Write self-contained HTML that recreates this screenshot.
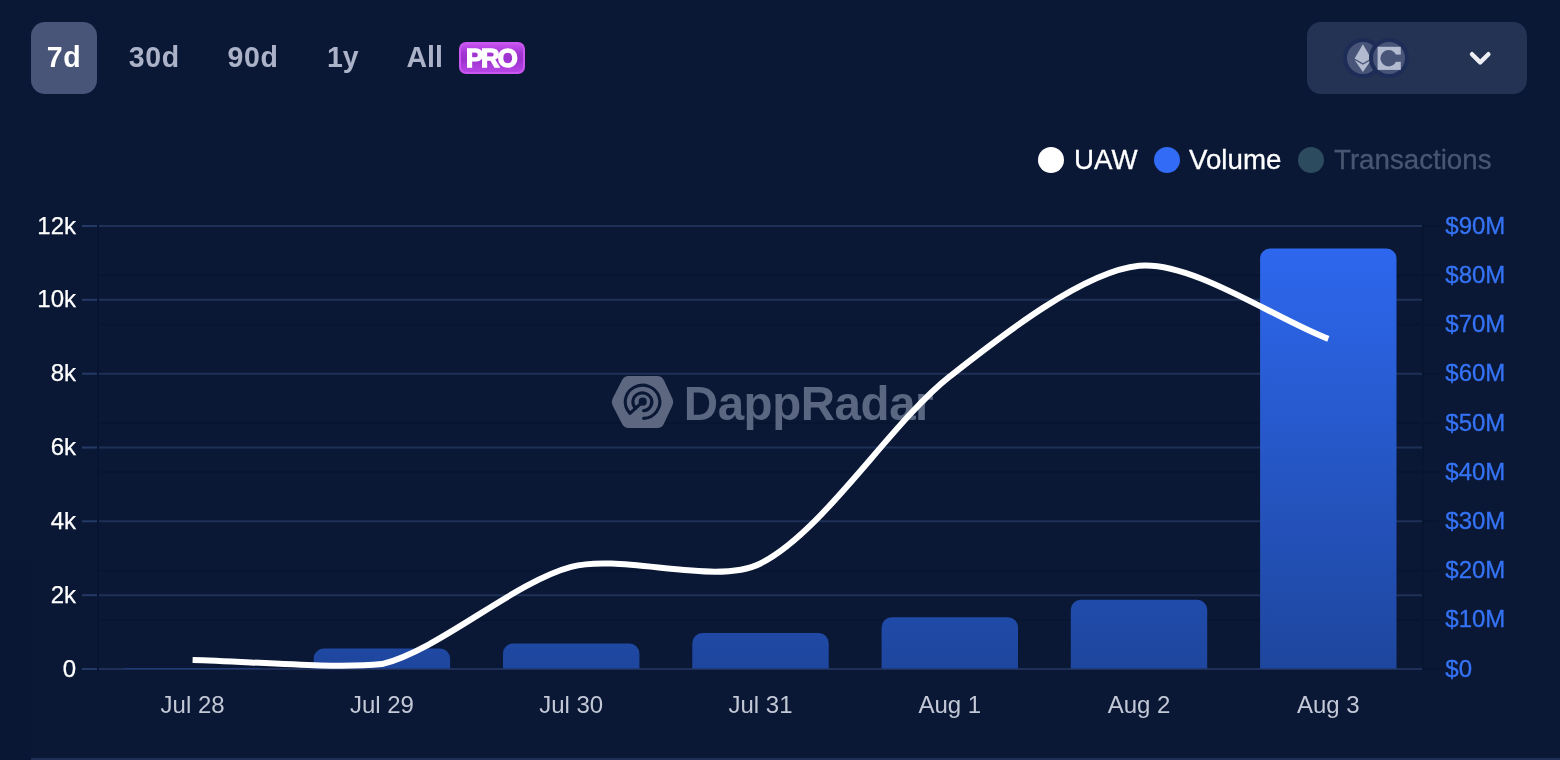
<!DOCTYPE html>
<html lang="en">
<head>
<meta charset="utf-8">
<title>DappRadar chart</title>
<style>
html,body{margin:0;padding:0;}
body{width:1560px;height:760px;overflow:hidden;background:#0a1836;font-family:"Liberation Sans",Arial,sans-serif;position:relative;}
.tab{position:absolute;top:22px;height:72px;line-height:70px;font-weight:700;font-size:28.5px;color:#acb3c9;white-space:nowrap;letter-spacing:.6px;}
.tab span{display:inline-block;transform:scaleY(1.05);transform-origin:50% 62%;}
.tab.active{left:31px;width:66px;background:#485578;border-radius:14px;color:#fff;text-align:center;}
.pro{position:absolute;left:459px;top:42px;width:66px;height:32px;box-sizing:border-box;border-radius:7px;border:2px solid #cb56f0;background:linear-gradient(180deg,#c651ee 0%,#a136d2 35%,#9c33cf 55%,#b846e6 100%);color:#fff;font-weight:700;font-size:25.7px;line-height:28px;text-align:center;letter-spacing:-2px;text-indent:-2.4px;-webkit-text-stroke:1.4px #fff;}
.dd{position:absolute;left:1307px;top:22px;width:220px;height:72px;border-radius:14px;background:#243353;}
.legend{position:absolute;top:144px;height:32px;line-height:32px;font-size:27.7px;color:#fff;white-space:nowrap;-webkit-text-stroke:.3px currentColor;}
.dot{position:absolute;top:147px;width:26px;height:26px;border-radius:50%;}
svg{position:absolute;left:0;top:0;}
.ax{font-family:"Liberation Sans",Arial,sans-serif;font-size:24px;}
.bottomline{position:absolute;left:31px;right:0;top:758px;height:2px;background:#1e2e55;}
</style>
</head>
<body>
<div class="tab active"><span>7d</span></div>
<div class="tab" style="left:128.8px"><span>30d</span></div>
<div class="tab" style="left:227.6px"><span>90d</span></div>
<div class="tab" style="left:326.9px;letter-spacing:0"><span>1y</span></div>
<div class="tab" style="left:406.5px;letter-spacing:0"><span>All</span></div>
<div class="pro">PRO</div>

<div class="dd">
  <svg width="220" height="72" viewBox="0 0 220 72">
    <circle cx="56" cy="36" r="18" fill="#485578" stroke="#1d2d57" stroke-width="4"/>
    <g fill="#b3bbd0">
      <path d="M55.9 22.2 L64.2 36.5 L55.9 41.2 L47.6 36.5 Z"/>
      <path d="M47.6 38 L55.9 42.8 L64.2 38 L55.9 50 Z"/>
    </g>
    <circle cx="82" cy="36" r="18" fill="#485578" stroke="#1d2d57" stroke-width="4"/>
    <rect x="70.6" y="24.8" width="23.2" height="23.1" fill="#b3bbd0"/>
    <circle cx="81.63" cy="36.2" r="8.2" fill="#485578"/>
    <rect x="85" y="32.6" width="9.2" height="7.2" fill="#485578"/>
    <path d="M165 32.2 L173.2 40.4 L181.4 32.2" fill="none" stroke="#eceef3" stroke-width="4.4" stroke-linecap="round" stroke-linejoin="round"/>
  </svg>
</div>

<div class="dot" style="left:1038px;background:#fff"></div>
<div class="legend" style="left:1074px">UAW</div>
<div class="dot" style="left:1153.5px;background:#316bf6"></div>
<div class="legend" style="left:1189px">Volume</div>
<div class="dot" style="left:1298px;background:#2c4b5f"></div>
<div class="legend" style="left:1334px;color:#4a5671">Transactions</div>

<svg width="1560" height="760" viewBox="0 0 1560 760">
<defs>
<linearGradient id="bg" gradientUnits="userSpaceOnUse" x1="0" y1="226" x2="0" y2="669">
<stop offset="0" stop-color="#2e69f2"/>
<stop offset="1" stop-color="#1e469e"/>
</linearGradient>
</defs>
<line x1="98" x2="1439" y1="275.2" y2="275.2" stroke="#081530" stroke-width="2"/>
<line x1="98" x2="1439" y1="324.4" y2="324.4" stroke="#081530" stroke-width="2"/>
<line x1="98" x2="1439" y1="373.7" y2="373.7" stroke="#081530" stroke-width="2"/>
<line x1="98" x2="1439" y1="422.9" y2="422.9" stroke="#081530" stroke-width="2"/>
<line x1="98" x2="1439" y1="472.1" y2="472.1" stroke="#081530" stroke-width="2"/>
<line x1="98" x2="1439" y1="521.3" y2="521.3" stroke="#081530" stroke-width="2"/>
<line x1="98" x2="1439" y1="570.6" y2="570.6" stroke="#081530" stroke-width="2"/>
<line x1="98" x2="1439" y1="619.8" y2="619.8" stroke="#081530" stroke-width="2"/>
<line x1="98" x2="1423" y1="226.0" y2="226.0" stroke="#1f3058" stroke-width="2"/>
<line x1="82" x2="97" y1="226.0" y2="226.0" stroke="#243a66" stroke-width="2"/>
<line x1="98" x2="1423" y1="299.8" y2="299.8" stroke="#1f3058" stroke-width="2"/>
<line x1="82" x2="97" y1="299.8" y2="299.8" stroke="#243a66" stroke-width="2"/>
<line x1="98" x2="1423" y1="373.7" y2="373.7" stroke="#1f3058" stroke-width="2"/>
<line x1="82" x2="97" y1="373.7" y2="373.7" stroke="#243a66" stroke-width="2"/>
<line x1="98" x2="1423" y1="447.5" y2="447.5" stroke="#1f3058" stroke-width="2"/>
<line x1="82" x2="97" y1="447.5" y2="447.5" stroke="#243a66" stroke-width="2"/>
<line x1="98" x2="1423" y1="521.3" y2="521.3" stroke="#1f3058" stroke-width="2"/>
<line x1="82" x2="97" y1="521.3" y2="521.3" stroke="#243a66" stroke-width="2"/>
<line x1="98" x2="1423" y1="595.2" y2="595.2" stroke="#1f3058" stroke-width="2"/>
<line x1="82" x2="97" y1="595.2" y2="595.2" stroke="#243a66" stroke-width="2"/>
<line x1="98" x2="1423" y1="669.0" y2="669.0" stroke="#1f3058" stroke-width="2"/>
<line x1="82" x2="97" y1="669.0" y2="669.0" stroke="#243a66" stroke-width="2"/>
<line x1="1423" x2="1439" y1="226.0" y2="226.0" stroke="#081530" stroke-width="2"/>
<line x1="1423" x2="1439" y1="669.0" y2="669.0" stroke="#081530" stroke-width="2"/>
<line x1="98" x2="98" y1="224.0" y2="670.0" stroke="#081530" stroke-width="2"/>
<line x1="1423" x2="1423" y1="224.0" y2="670.0" stroke="#081530" stroke-width="2"/>
<!-- watermark logo -->
<g>
  <polygon points="619.3,402 628.8,383.4 657.1,383.4 665.7,402 657.1,420.5 628.8,420.5" fill="#5d6880" stroke="#5d6880" stroke-width="15" stroke-linejoin="round"/>
  <g transform="translate(642.6,401.8)" fill="none" stroke="#0a1836" stroke-width="3.1" stroke-linecap="round" stroke-linejoin="round">
    <path d="M0 0 L-12.6 11.5 A17.3 16.6 0 1 1 1 16.6"/>
    <path d="M-7 6.4 A9.5 9 0 1 1 1 9"/>
  </g>
  <circle cx="642.7" cy="401.7" r="4.1" fill="#0a1836"/>
</g>
<text x="683.8" y="419.5" font-family="Liberation Sans,Arial,sans-serif" font-weight="700" font-size="47.5" letter-spacing="-0.45" fill="#5b6680">DappRadar</text>
<path d="M124.4 668.5 V668.0 A0.1 0.1 0 0 1 124.5 667.9 H260.7 A0.1 0.1 0 0 1 260.8 668.0 V668.5 Z" fill="url(#bg)"/>
<path d="M313.7 668.5 V658.5 A10.0 10.0 0 0 1 323.7 648.5 H440.1 A10.0 10.0 0 0 1 450.1 658.5 V668.5 Z" fill="url(#bg)"/>
<path d="M503.0 668.5 V653.6 A10.0 10.0 0 0 1 513.0 643.6 H629.4 A10.0 10.0 0 0 1 639.4 653.6 V668.5 Z" fill="url(#bg)"/>
<path d="M692.3 668.5 V643.1 A10.0 10.0 0 0 1 702.3 633.1 H818.7 A10.0 10.0 0 0 1 828.7 643.1 V668.5 Z" fill="url(#bg)"/>
<path d="M881.6 668.5 V627.2 A10.0 10.0 0 0 1 891.6 617.2 H1008.0 A10.0 10.0 0 0 1 1018.0 627.2 V668.5 Z" fill="url(#bg)"/>
<path d="M1070.8 668.5 V609.8 A10.0 10.0 0 0 1 1080.8 599.8 H1197.2 A10.0 10.0 0 0 1 1207.2 609.8 V668.5 Z" fill="url(#bg)"/>
<path d="M1260.1 668.5 V258.6 A10.0 10.0 0 0 1 1270.1 248.6 H1386.5 A10.0 10.0 0 0 1 1396.5 258.6 V668.5 Z" fill="url(#bg)"/>
<path d="M192.6 659.9 C246.7 661.1 330.9 669.0 381.9 664.1 C439.2 650.0 513.9 582.1 571.2 566.9 C622.2 553.3 715.5 586.1 760.5 563.5 C823.7 531.7 890.4 423.1 949.8 376.4 C998.7 338.0 1082.8 271.4 1139.0 265.8 C1191.1 260.7 1274.2 318.0 1328.3 338.9" fill="none" stroke="#fff" stroke-width="6" stroke-linejoin="round"/>
<text x="76" y="233.6" text-anchor="end" fill="#fff" stroke="#fff" stroke-width=".25" class="ax">12k</text>
<text x="76" y="307.4" text-anchor="end" fill="#fff" stroke="#fff" stroke-width=".25" class="ax">10k</text>
<text x="76" y="381.3" text-anchor="end" fill="#fff" stroke="#fff" stroke-width=".25" class="ax">8k</text>
<text x="76" y="455.1" text-anchor="end" fill="#fff" stroke="#fff" stroke-width=".25" class="ax">6k</text>
<text x="76" y="528.9" text-anchor="end" fill="#fff" stroke="#fff" stroke-width=".25" class="ax">4k</text>
<text x="76" y="602.8" text-anchor="end" fill="#fff" stroke="#fff" stroke-width=".25" class="ax">2k</text>
<text x="76" y="676.6" text-anchor="end" fill="#fff" stroke="#fff" stroke-width=".25" class="ax">0</text>
<text x="1445.3" y="233.6" fill="#3573f5" stroke="#3573f5" stroke-width=".3" class="ax">$90M</text>
<text x="1445.3" y="282.8" fill="#3573f5" stroke="#3573f5" stroke-width=".3" class="ax">$80M</text>
<text x="1445.3" y="332.0" fill="#3573f5" stroke="#3573f5" stroke-width=".3" class="ax">$70M</text>
<text x="1445.3" y="381.3" fill="#3573f5" stroke="#3573f5" stroke-width=".3" class="ax">$60M</text>
<text x="1445.3" y="430.5" fill="#3573f5" stroke="#3573f5" stroke-width=".3" class="ax">$50M</text>
<text x="1445.3" y="479.7" fill="#3573f5" stroke="#3573f5" stroke-width=".3" class="ax">$40M</text>
<text x="1445.3" y="528.9" fill="#3573f5" stroke="#3573f5" stroke-width=".3" class="ax">$30M</text>
<text x="1445.3" y="578.2" fill="#3573f5" stroke="#3573f5" stroke-width=".3" class="ax">$20M</text>
<text x="1445.3" y="627.4" fill="#3573f5" stroke="#3573f5" stroke-width=".3" class="ax">$10M</text>
<text x="1445.3" y="676.6" fill="#3573f5" stroke="#3573f5" stroke-width=".3" class="ax">$0</text>
<text x="192.6" y="713" text-anchor="middle" fill="#c3c8d6" class="ax">Jul 28</text>
<text x="381.9" y="713" text-anchor="middle" fill="#c3c8d6" class="ax">Jul 29</text>
<text x="571.2" y="713" text-anchor="middle" fill="#c3c8d6" class="ax">Jul 30</text>
<text x="760.5" y="713" text-anchor="middle" fill="#c3c8d6" class="ax">Jul 31</text>
<text x="949.8" y="713" text-anchor="middle" fill="#c3c8d6" class="ax">Aug 1</text>
<text x="1139.0" y="713" text-anchor="middle" fill="#c3c8d6" class="ax">Aug 2</text>
<text x="1328.3" y="713" text-anchor="middle" fill="#c3c8d6" class="ax">Aug 3</text>
</svg>
<div style="position:absolute;left:0;top:560px;width:31px;height:200px;background:#091734"></div>
<div class="bottomline"></div>
</body>
</html>
